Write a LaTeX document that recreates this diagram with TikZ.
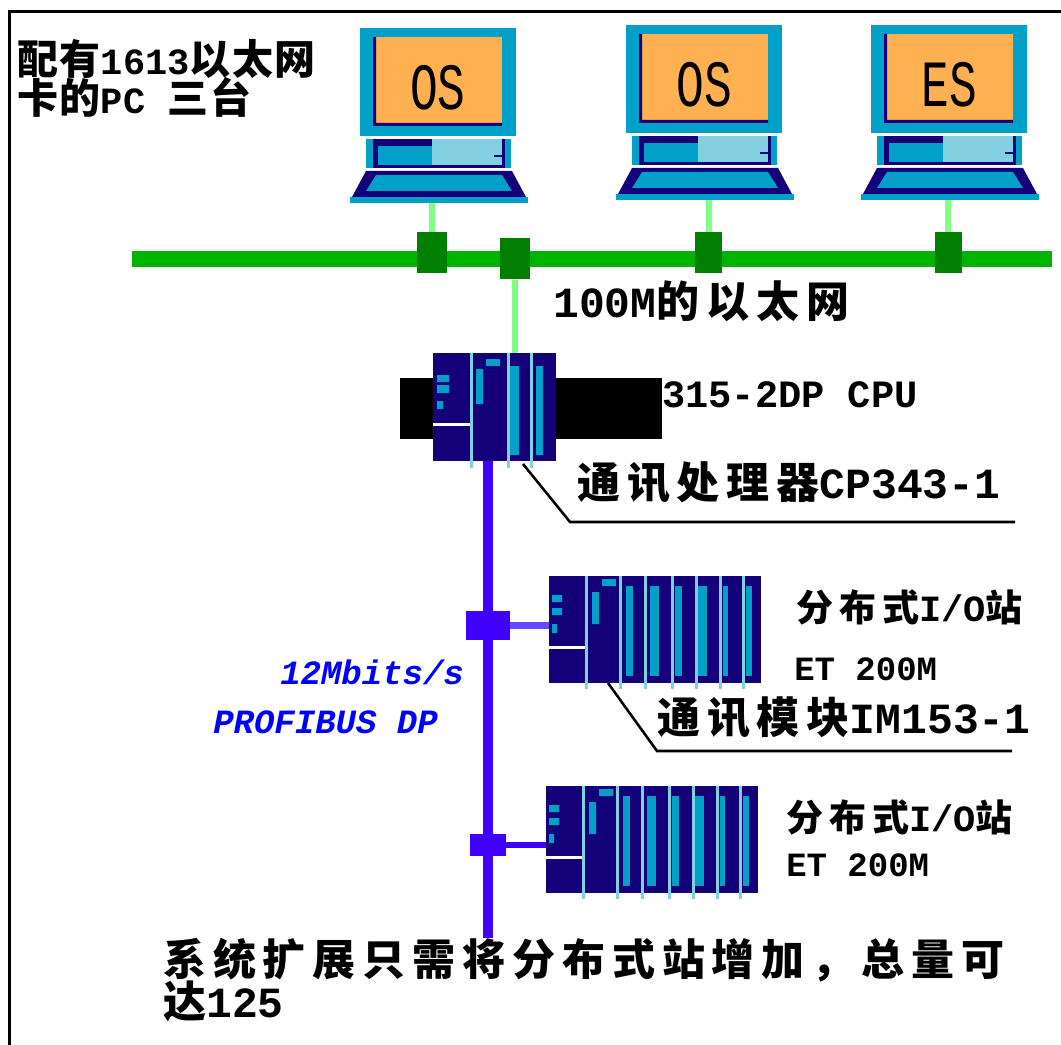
\documentclass[tikz,border=0pt]{standalone}
\usepackage{fontspec}
\newfontfamily\zh{Noto Sans CJK SC}[LetterSpace=16]
\newfontfamily\zhtight{Noto Sans CJK SC}[LetterSpace=4]
\newfontfamily\en{Liberation Mono}

\definecolor{pccyan}{HTML}{00A0C8}
\definecolor{pclight}{HTML}{80D0E0}
\definecolor{pcnavy}{HTML}{140078}
\definecolor{scrorange}{HTML}{FFB050}
\definecolor{ethgreen}{HTML}{00B400}
\definecolor{ethdark}{HTML}{007F00}
\definecolor{ethdrop}{HTML}{80FF80}
\definecolor{dpviolet}{HTML}{4000FF}
\definecolor{dpbranch}{HTML}{6A48FF}
\definecolor{dplabel}{HTML}{0000FF}

\begin{document}
\begin{tikzpicture}[
    x=0.75pt, y=-0.75pt,
    frame/.style={line width=2.25pt, black},
    ethbus/.style={line width=12pt, ethgreen},
    ethline/.style={line width=4.5pt, ethdrop},
    ethjunc/.style={rectangle, fill=ethdark, inner sep=0pt, minimum width=22pt, minimum height=30.75pt},
    dpbus/.style={line width=7.5pt, dpviolet},
    dpjunc/.style={rectangle, fill=dpviolet, inner sep=0pt},
    leader/.style={line width=1.9pt, black},
    cnlabel/.style={inner sep=0pt, anchor=base west, font=\zh\bfseries\fontsize{32.25}{38}\selectfont},
    cnsmall/.style={cnlabel, font=\zh\bfseries\fontsize{27.75}{32}\selectfont},
    cnhead/.style={cnlabel, font=\zhtight\bfseries\fontsize{30.75}{34}\selectfont},
    plate/.style={inner sep=0pt, anchor=base west, font=\en\bfseries\fontsize{25.5}{30}\selectfont},
    dptxt/.style={inner sep=0pt, anchor=base west, text=dplabel, font=\en\bfseries\itshape\fontsize{25.5}{30}\selectfont},
    scrtxt/.style={inner sep=0pt, font=\en\fontsize{49.5}{50}\selectfont},
    % workstation: monitor, desktop unit, keyboard
    pics/pc/.style={code={
        \fill[pccyan] (0,0) rectangle (156,108);
        \fill[scrorange] (13,9) rectangle (142,98);
        \fill[pcnavy] (13,9) rectangle (16,98) (13,95) rectangle (142,98);
        \node[scrtxt] (-name) at (78,60) {\scalebox{0.7}[1]{#1}};
        \fill[pccyan] (6,111) rectangle (151,140);
        \fill[pcnavy] (13,111) rectangle (145,140);
        \fill[pccyan] (18,118) rectangle (72,137);
        \fill[pclight] (72,111) rectangle (142,137);
        \fill[pcnavy] (134,127) rectangle (142,129);
        \fill[pcnavy] (6,143) -- (152,143) -- (166,169) -- (-8,169) -- cycle;
        \fill[pccyan] (16,147) -- (142,147) -- (152,163) -- (6,163) -- cycle;
        \fill[pccyan] (-10,169) rectangle (168,175);
        \coordinate (-port) at (78,175);
    }},
    % ET 200M rack: IM153 + signal modules
    pics/etrack/.style={code={
        \fill[pcnavy] (0,0) rectangle (212,107);
        \fill[white] (0,70) rectangle (37,73);
        \fill[pccyan] (3,19) rectangle (13,26) (3,32) rectangle (13,39) (3,48) rectangle (8,57);
        \fill[pccyan] (53,3) rectangle (67,10) (43,16) rectangle (50,48);
        \foreach \a/\b in {77/84, 101/110, 126/133, 149/158, 174/179, 197/203}
            \fill[pccyan] (\a,10) rectangle (\b,100);
        \foreach \d in {37,71,96.5,123.5,147,171,194.5}
            \fill[pclight] (\d-1.5,0) rectangle (\d+1.5,113);
        \coordinate (-in) at (0,52);
        \coordinate (-tap) at (59,107);
    }}
]

\useasboundingbox (0,0) rectangle (1061,1045);
\draw[frame] (9,1045) -- (9,12) -- (1061,12);

% 1. Workstations (top)
\node[cnhead] (tl1) at (17,75) {配有{\en\fontsize{27.75}{30}\selectfont 1613}以太网};
\node[cnhead] (tl2) at (17,114) {卡的{\en\fontsize{27.75}{30}\selectfont PC }三台};

\pic (pc1) at (360,28) {pc=OS};
\pic (pc2) at (626,25) {pc=OS};
\pic (pc3) at (871,25) {pc=ES};

% 2. Industrial Ethernet
\coordinate (eth-w) at (132,259);
\coordinate (eth-e) at (1052,259);
\draw[ethbus] (eth-w) -- (eth-e);

\coordinate (cpu-eth) at (516,353);
\node[ethjunc] (j1) at (432,252.5) {};
\node[ethjunc] (j2) at (515,259) {};
\node[ethjunc, minimum width=20.25pt] (j3) at (708.5,252.5) {};
\node[ethjunc, minimum width=20.25pt] (j4) at (948,252.5) {};

\draw[ethline] (j1) -- (j1 |- pc1-port);
\draw[ethline] (j3) -- (j3 |- pc2-port);
\draw[ethline] (j4) -- (j4 |- pc3-port);
\draw[ethline] (j2) -- (j2 |- cpu-eth);

\node[cnlabel] (eth) at (553,317) {{\en 100M}的以太网};

% 3. PROFIBUS DP line
\coordinate (cpu-dp) at (488,461);
\coordinate (dp-end) at (488,938);
\draw[dpbus] (cpu-dp) -- (dp-end);

% 4. S7-300 CPU with CP343-1
\fill (400,378) rectangle (662,439);
\fill[pcnavy] (433,353) rectangle (556,461);
\fill[white] (433,423) rectangle (470,426);
\fill[pccyan] (437,375) rectangle (449,382) (437,385) rectangle (449,393) (437,401) rectangle (443,409);
\fill[pccyan] (486,359) rectangle (500,366) (476,369) rectangle (483,404);
\fill[pccyan] (510,366) rectangle (519,455) (536,366) rectangle (543,455);
\foreach \d in {471.5,508,531}
    \fill[pclight] (\d-1.5,353) rectangle (\d+1.5,468);
\coordinate (cpu-tap) at (523,464);

\node[plate, font=\en\bfseries\fontsize{29}{32}\selectfont] (cpu) at (662,407) {315-2DP CPU};
\node[cnlabel] (cp) at (577,498) {通讯处理器{\en CP343-1}};
\coordinate (cp-knee) at (570,522);
\coordinate (cp-end) at (1015,522);
\draw[leader] (cpu-tap) -- (cp-knee) -- (cp-end);

% 5. Distributed I/O stations
\pic (et1) at (549,576) {etrack};
\pic (et2) at (546,786) {etrack};

\node[dpjunc, minimum width=33pt, minimum height=21.75pt] (pb1) at (488,625.5) {};
\node[dpjunc, minimum width=27pt, minimum height=16.5pt] (pb2) at (488,845) {};
\draw[line width=5.25pt, dpbranch] (pb1) -- (pb1 -| et1-in);
\draw[line width=4.5pt, dpviolet] (pb2) -- (pb2 -| et2-in);

\node[cnsmall] (io1) at (796,621) {分布式{\en I/O}站};
\node[plate] (et1name) at (794,680) {ET 200M};
\node[cnlabel] (im) at (657,733) {通讯模块{\en IM153-1}};
\coordinate (im-knee) at (657,751);
\coordinate (im-end) at (1012,751);
\draw[leader] (et1-tap) -- (im-knee) -- (im-end);

\node[cnsmall] (io2) at (786,831) {分布式{\en I/O}站};
\node[plate] (et2name) at (786,876) {ET 200M};

\node[dptxt] (rate) at (280,684) {12Mbits/s};
\node[dptxt] (dp) at (213,733) {PROFIBUS DP};

% 6. Note (bottom)
\node[cnlabel] (bot1) at (163,975) {系统扩展只需将分布式站增加，总量可};
\node[cnlabel] (bot2) at (163,1017) {达{\en 125}};

\end{tikzpicture}
\end{document}
